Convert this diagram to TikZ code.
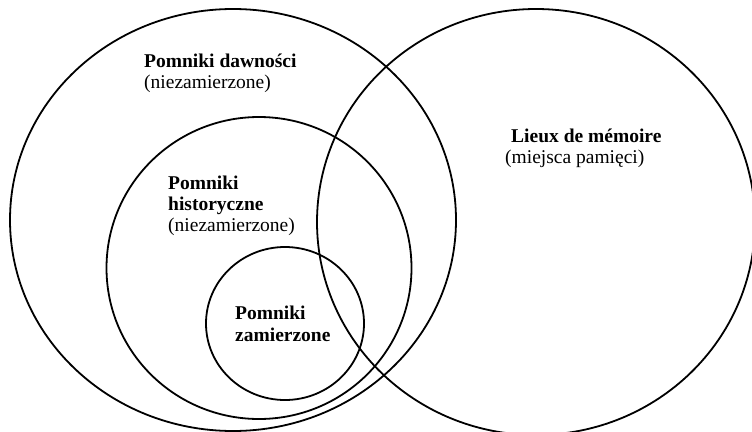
\documentclass[tikz,border=0pt]{standalone}
\usepackage{fontspec}
\setmainfont{Liberation Serif}
\usetikzlibrary{shapes.geometric}
\begin{document}
\begin{tikzpicture}[x=1pt,y=-1pt,
  set/.style={draw=black, line width=1.8pt, ellipse, inner sep=0pt},
  lbl/.style={anchor=base west, inner sep=0pt, font=\fontsize{19.5}{22}\selectfont},
  blbl/.style={lbl, font=\fontsize{19.5}{22}\selectfont\bfseries}]
\useasboundingbox (0,0) rectangle (752,431);
\fill[white] (0,0) rectangle (752,431);
\node[set, minimum width=446pt, minimum height=422pt] (dawnosci) at (233,220) {};
\node[set, minimum width=438pt, minimum height=426pt] (lieux) at (536,222) {};
\node[set, minimum width=305pt, minimum height=302pt] (historyczne) at (259,268) {};
\node[set, minimum width=158pt, minimum height=153pt] (zamierzone) at (285,323.5) {};
\node[blbl] (t1) at (144,67) {Pomniki dawności};
\node[lbl] (t2) at (144,88) {(niezamierzone)};
\node[blbl] (t3) at (168,189) {Pomniki};
\node[blbl] (t4) at (168,210) {historyczne};
\node[lbl] (t5) at (168,231) {(niezamierzone)};
\node[blbl] (t6) at (511,142) {Lieux de mémoire};
\node[lbl] (t7) at (505,163) {(miejsca pamięci)};
\node[blbl] (t8) at (235,319) {Pomniki};
\node[blbl] (t9) at (235,341) {zamierzone};
\end{tikzpicture}
\end{document}
